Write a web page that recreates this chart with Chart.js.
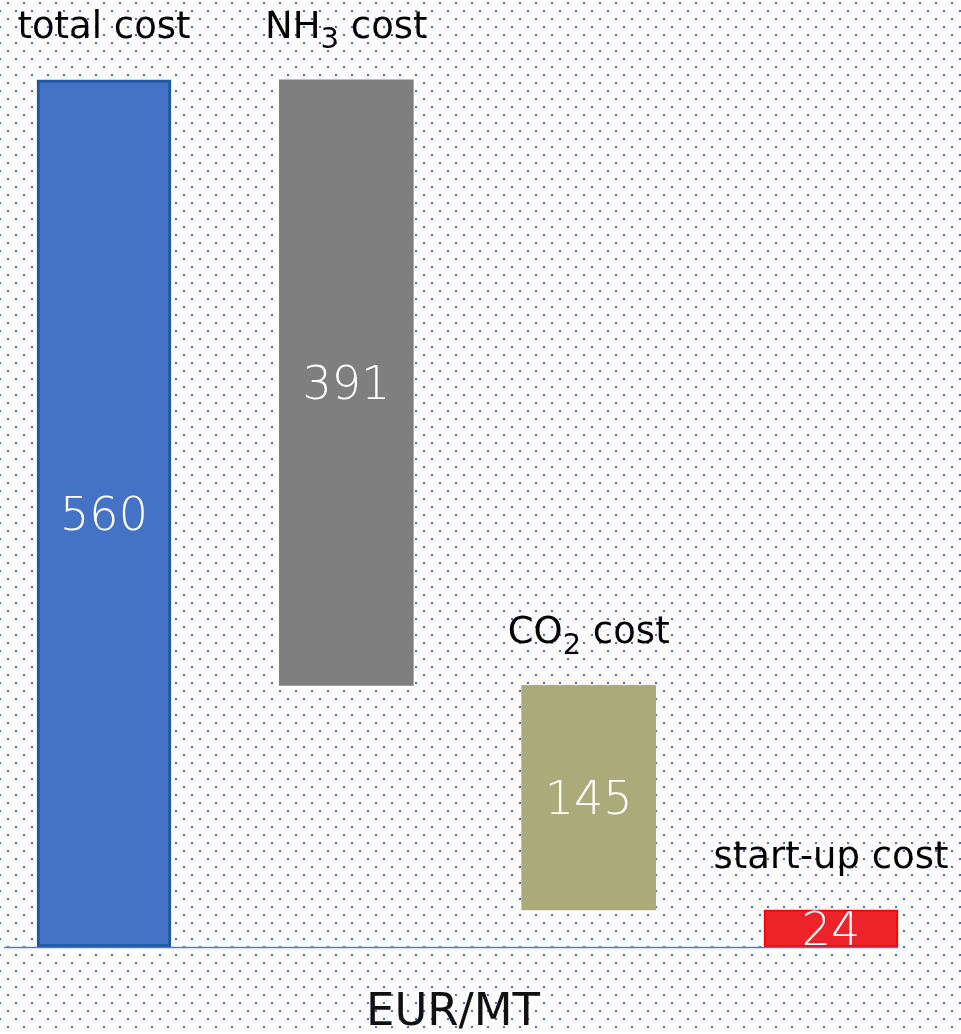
<!DOCTYPE html>
<html>
<head>
<meta charset="utf-8">
<script src="https://cdn.jsdelivr.net/npm/chart.js@4.4.1/dist/chart.umd.min.js"></script>
<style>
  html, body { margin: 0; padding: 0; background: #ffffff; }
  #wrap { width: 961px; height: 1034px; position: relative; overflow: hidden; }
</style>
</head>
<body>
<div id="wrap"><canvas id="c" width="961" height="1034"></canvas></div>
<script>
// Cost breakdown (EUR per metric tonne)
const categories = ['total cost', 'NH₃ cost', 'CO₂ cost', 'start-up cost'];
const costValues = [560, 391, 145, 24];
const barColors = ['#4472C4', '#7F7F7F', '#ABAB79', '#EE2229'];
const borderColors = ['#1F56A6', '#7F7F7F', '#ABAB79', '#FF0000'];
const borderWidths = [3, 0, 0, 2];
const unitLabel = 'EUR/MT';

// Waterfall ranges: the first bar is the total, the components step down from it
const ranges = [[0, costValues[0]]];
let level = costValues[0];
for (let i = 1; i < costValues.length; i++) {
  ranges.push([level - costValues[i], level]);
  level -= costValues[i];
}

const FONT = '"DejaVu Sans", "Noto Sans", sans-serif';
const SUBS = { '₀':'0','₁':'1','₂':'2','₃':'3','₄':'4','₅':'5','₆':'6','₇':'7','₈':'8','₉':'9' };

// Splits a label into normal / subscript runs
function runsOf(text) {
  const runs = [];
  for (const ch of text) {
    const sub = SUBS[ch] !== undefined;
    const c = sub ? SUBS[ch] : ch;
    const last = runs[runs.length - 1];
    if (last && last.sub === sub) last.text += c; else runs.push({ text: c, sub });
  }
  return runs;
}

function drawRichText(ctx, text, cx, baseline, size) {
  const runs = runsOf(text);
  const subSize = Math.round(size * 0.78);
  let total = 0;
  runs.forEach(r => {
    ctx.font = `400 ${r.sub ? subSize : size}px ${FONT}`;
    r.w = ctx.measureText(r.text).width;
    total += r.w;
  });
  let x = cx - total / 2;
  ctx.textAlign = 'left';
  ctx.textBaseline = 'alphabetic';
  runs.forEach(r => {
    ctx.font = `400 ${r.sub ? subSize : size}px ${FONT}`;
    ctx.fillText(r.text, x, baseline + (r.sub ? size * 0.28 : 0));
    x += r.w;
  });
}

// Dotted slide background
const dotBackground = {
  id: 'dotBackground',
  beforeDraw(chart) {
    const ctx = chart.ctx;
    ctx.save();
    ctx.fillStyle = '#ffffff';
    ctx.fillRect(0, 0, chart.width, chart.height);
    ctx.fillStyle = '#3F6CC4';
    let row = 0;
    for (let y = 3; y < chart.height; y += 8, row++) {
      const off = (row % 2 === 0) ? 8 : 0;
      for (let x = off; x < chart.width; x += 16) {
        ctx.fillRect(x - 1, y - 1, 2, 2);
      }
    }
    ctx.restore();
  }
};

// Baseline, value labels inside bars, category names above bars, unit caption
const annotations = {
  id: 'annotations',
  afterDatasetsDraw(chart) {
    const ctx = chart.ctx;
    const meta = chart.getDatasetMeta(0);
    const y0 = chart.scales.y.getPixelForValue(0);
    const first = meta.data[0], last = meta.data[meta.data.length - 1];
    ctx.save();
    ctx.strokeStyle = '#4A7BCF';
    ctx.lineWidth = 1.5;
    ctx.beginPath();
    ctx.moveTo(first.x - first.width / 2 - 33, y0 + 0.5);
    ctx.lineTo(last.x + last.width / 2, y0 + 0.5);
    ctx.stroke();

    meta.data.forEach((bar, i) => {
      const top = Math.min(bar.y, bar.base);
      const bottom = Math.max(bar.y, bar.base);
      const mid = (top + bottom) / 2;
      const size = 46;
      ctx.fillStyle = '#ffffff';
      ctx.font = `300 ${size}px ${FONT}`;
      ctx.textAlign = 'center';
      ctx.textBaseline = 'alphabetic';
      ctx.fillText(String(costValues[i]), bar.x, mid + size * 0.365);

      ctx.fillStyle = '#000000';
      drawRichText(ctx, categories[i], bar.x, top - 42, 37);
    });

    ctx.fillStyle = '#111111';
    ctx.font = `400 45px ${FONT}`;
    ctx.textAlign = 'center';
    ctx.textBaseline = 'alphabetic';
    ctx.fillText(unitLabel, 453, 1025);
    ctx.restore();
  }
};

new Chart(document.getElementById('c'), {
  type: 'bar',
  data: {
    labels: categories,
    datasets: [{
      data: ranges,
      backgroundColor: barColors,
      borderColor: borderColors,
      borderWidth: borderWidths,
      borderSkipped: false,
      barThickness: 134,
      clip: false
    }]
  },
  options: {
    responsive: false,
    animation: false,
    layout: { padding: { left: 104, right: 130, top: 18, bottom: 87 } },
    plugins: { legend: { display: false }, tooltip: { enabled: false } },
    scales: {
      x: { display: false, offset: false },
      y: { display: false, min: 0, max: 600 }
    }
  },
  plugins: [dotBackground, annotations]
});
</script>
</body>
</html>
